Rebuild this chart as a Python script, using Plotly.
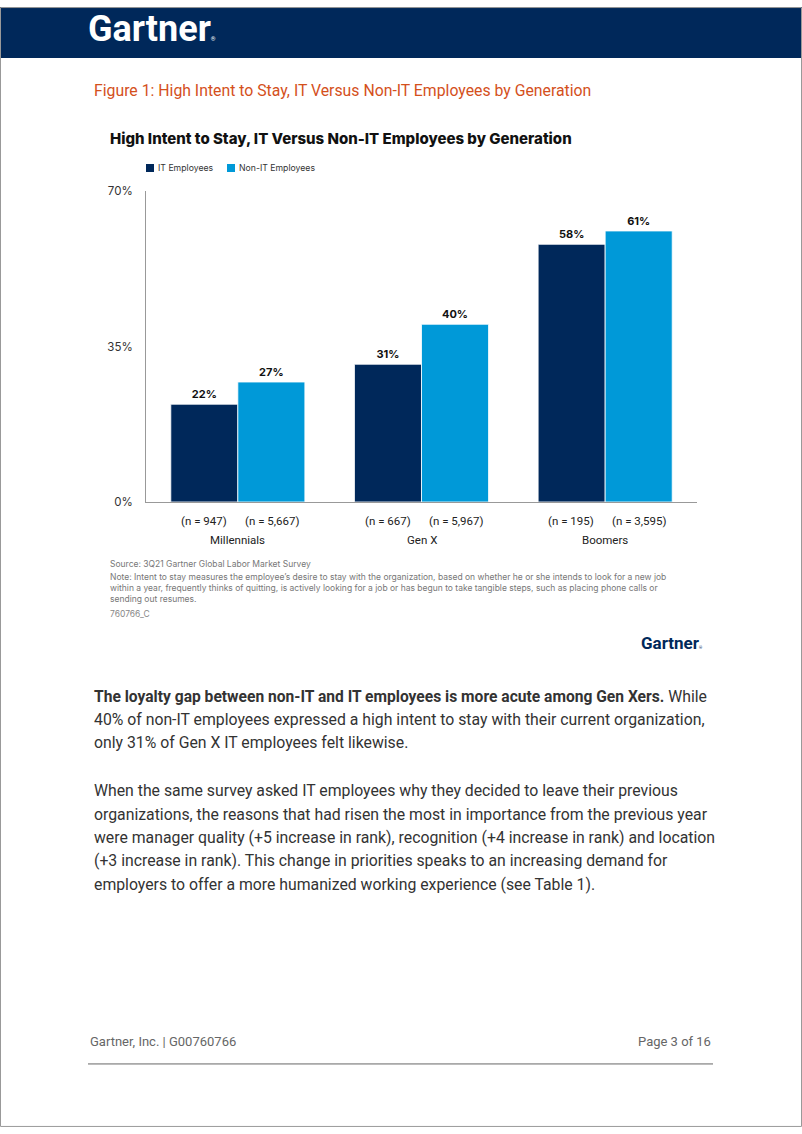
import plotly.graph_objects as go

# ---- data ----
generations = ["Millennials", "Gen X", "Boomers"]
it_values = [22, 31, 58]
non_it_values = [27, 40, 61]
it_n = ["(n = 947)", "(n = 667)", "(n = 195)"]
non_it_n = ["(n = 5,667)", "(n = 5,967)", "(n = 3,595)"]
series_names = ["IT Employees", "Non-IT Employees"]
y_ticks = [0, 35, 70]
y_ticklabels = ["0%", "35%", "70%"]

W, H = 802, 1134
NAVY = "#00285A"
LIGHT = "#0099D8"

# the photographed page shows the figure at y' = 7 + 0.9877*y; compensate
OFF, SC = 7.0, 0.9877


def px(x):
    return x / W


def py(y):
    return 1 - ((y - OFF) / SC) / H


fig = go.Figure()
for name, vals, col in zip(series_names, [it_values, non_it_values], [NAVY, LIGHT]):
    fig.add_trace(go.Bar(
        name=name, x=generations, y=vals,
        marker=dict(color=col, line=dict(color="white", width=0.8)),
        texttemplate="<b>%{y}%</b>", textposition="outside", cliponaxis=False,
        textfont=dict(family="Inter", size=11, color="#111")))

ann = []
for g, a, b in zip(generations, it_n, non_it_n):
    ann.append(dict(x=g, xref="x", y=py(521), yref="paper", text=a, showarrow=False,
                    xshift=-34, font=dict(family="Roboto", size=11.5, color="#222")))
    ann.append(dict(x=g, xref="x", y=py(521), yref="paper", text=b, showarrow=False,
                    xshift=34, font=dict(family="Roboto", size=11.5, color="#222")))
    ann.append(dict(x=g, xref="x", y=py(540), yref="paper", text=g, showarrow=False,
                    font=dict(family="Roboto", size=11.5, color="#222")))


def txt(x, y, s, size, color, family="Roboto", xanchor="left", yanchor="middle", weight=None):
    f = dict(family=family, size=size, color=color)
    if weight:
        f["weight"] = weight
    ann.append(dict(x=px(x), y=py(y), xref="paper", yref="paper", text=s, showarrow=False,
                    xanchor=xanchor, yanchor=yanchor, align="left", font=f))


txt(86, 29, "<b>Gartner</b><span style='font-size:6px'>®</span>", 36, "white", family="Roboto")
txt(92, 91, "Figure 1: High Intent to Stay, IT Versus Non-IT Employees by Generation", 15.8, "#D4501C")
txt(108, 139, "High Intent to Stay, IT Versus Non-IT Employees by Generation", 15, "#111",
    family="Inter", weight=800)

# legend
shapes = []
leg_x = [146, 227]
for lx, name, col in zip(leg_x, series_names, [NAVY, LIGHT]):
    shapes.append(dict(type="rect", xref="paper", yref="paper", x0=px(lx), x1=px(lx + 8),
                       y0=py(172), y1=py(164), fillcolor=col, line=dict(width=0)))
    txt(lx + 10, 168, name, 8.7, "#333", family="Inter")

txt(108, 564, "Source: 3Q21 Gartner Global Labor Market Survey", 8.5, "#777", family="Inter")
note_lines = [
    "Note: Intent to stay measures the employee’s desire to stay with the organization, based on whether he or she intends to look for a new job",
    "within a year, frequently thinks of quitting, is actively looking for a job or has begun to take tangible steps, such as placing phone calls or",
    "sending out resumes.",
]
for i, line in enumerate(note_lines):
    txt(108, 577 + i * 11, line, 8.5, "#777", family="Inter")
txt(108, 614, "760766_C", 8.5, "#888", family="Inter")
txt(639, 643, "<b>Gartner</b><span style='font-size:4px'>®</span>", 17, NAVY)

body = [
    (697, "<b><span style='font-size:15.6px'>The loyalty gap between non-IT and IT employees is more acute among Gen Xers.</span></b> While"),
    (720, "40% of non-IT employees expressed a high intent to stay with their current organization,"),
    (743, "only 31% of Gen X IT employees felt likewise."),
    (791, "When the same survey asked IT employees why they decided to leave their previous"),
    (815, "organizations, the reasons that had risen the most in importance from the previous year"),
    (838, "were manager quality (+5 increase in rank), recognition (+4 increase in rank) and location"),
    (861, "(+3 increase in rank). This change in priorities speaks to an increasing demand for"),
    (885, "employers to offer a more humanized working experience (see Table 1)."),
]
for y, s in body:
    txt(92, y, s, 15.8, "#333")

txt(88, 1042, "Gartner, Inc. | G00760766", 13, "#666")
txt(713, 1042, "Page 3 of 16", 13, "#666", xanchor="right")

shapes += [
    dict(type="rect", xref="paper", yref="paper", x0=0, x1=1, y0=py(58), y1=1,
         fillcolor=NAVY, line=dict(width=0), layer="below"),
    dict(type="line", xref="paper", yref="paper", x0=px(88), x1=px(713), y0=py(1064), y1=py(1064),
         line=dict(color="#666", width=1)),
    dict(type="rect", xref="paper", yref="paper", x0=px(0.5), x1=px(801.5), y0=0.0005, y1=0.9995,
         line=dict(color="#999", width=1)),
]

fig.update_layout(
    width=W, height=H, margin=dict(l=0, r=0, t=0, b=0),
    paper_bgcolor="white", plot_bgcolor="white",
    barmode="group", bargap=0.27, bargroupgap=0,
    showlegend=False,
    xaxis=dict(domain=[px(146), px(697)], showticklabels=False, ticks="",
               showline=True, linecolor="#999", linewidth=1, showgrid=False, zeroline=False),
    yaxis=dict(domain=[py(502), py(191)], range=[0, 70], tickvals=y_ticks, ticktext=y_ticklabels,
               showline=True, linecolor="#999", linewidth=1, showgrid=False, zeroline=False,
               ticks="", ticklabelstandoff=10,
               tickfont=dict(family="Inter", size=11.5, color="#333")),
    annotations=ann, shapes=shapes,
)

post = (
    "document.documentElement.style.margin='0';"
    "document.body.style.margin='0';"
    "document.body.style.overflow='hidden';"
)
fig.write_html("out.html", post_script=post, config={"displayModeBar": False})
